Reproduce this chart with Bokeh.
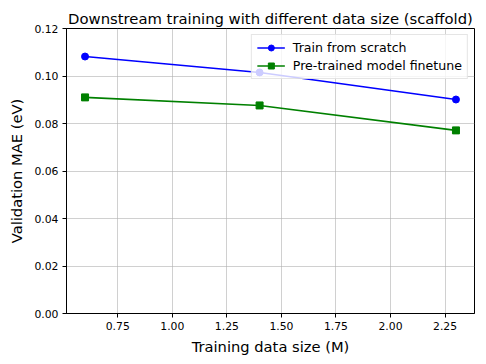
from bokeh.plotting import figure
from bokeh.models import Range1d, FixedTicker, NumeralTickFormatter, Legend, LegendItem
from bokeh.embed import file_html
from bokeh.resources import INLINE

data_size = [0.6, 1.4, 2.3]
scratch_mae = [0.1082, 0.1015, 0.0901]
finetune_mae = [0.0910, 0.0876, 0.0771]
x_ticks = [0.75, 1.00, 1.25, 1.50, 1.75, 2.00, 2.25]
y_ticks = [0.00, 0.02, 0.04, 0.06, 0.08, 0.10, 0.12]

FONT = "DejaVu Sans"

p = figure(frame_width=408, frame_height=285, output_backend="svg", toolbar_location=None,
           x_range=Range1d(0.515, 2.385), y_range=Range1d(0.0, 0.12),
           min_border_left=66, min_border_right=4, min_border_top=28, min_border_bottom=4)

p.title.text = "Downstream training with different data size (scaffold)"
p.title.align = "center"
p.title.text_font = FONT
p.title.text_font_size = "14.8px"
p.title.text_font_style = "normal"
p.title.text_color = "black"
p.title.standoff = 4

p.outline_line_color = "black"
p.outline_line_width = 1
p.background_fill_color = "white"
p.border_fill_color = "white"

for ax in (p.xaxis[0], p.yaxis[0]):
    ax.axis_line_color = "black"
    ax.major_tick_line_color = "black"
    ax.major_tick_out = 4
    ax.major_tick_in = 0
    ax.minor_tick_line_color = None
    ax.major_label_text_font = FONT
    ax.major_label_text_font_size = "10.8px"
    ax.major_label_text_color = "black"
    ax.axis_label_text_font = FONT
    ax.axis_label_text_font_size = "14.7px"
    ax.axis_label_text_font_style = "normal"
    ax.axis_label_text_color = "black"
    ax.formatter = NumeralTickFormatter(format="0.00")

p.xaxis.ticker = FixedTicker(ticks=x_ticks)
p.yaxis.ticker = FixedTicker(ticks=y_ticks)
p.xaxis.axis_label = "Training data size (M)"
p.yaxis.axis_label = "Validation MAE (eV)"
p.xaxis.major_label_standoff = 4
p.yaxis.major_label_standoff = 4
p.xaxis.axis_label_standoff = 5
p.yaxis.axis_label_standoff = 6

p.grid.grid_line_color = "#b0b0b0"
p.grid.grid_line_alpha = 0.6
p.grid.grid_line_width = 1

l1 = p.line(data_size, scratch_mae, line_color="#0000ff", line_width=1.6)
s1 = p.scatter(data_size, scratch_mae, marker="circle", size=7, fill_color="#0000ff", line_color="#0000ff")
l2 = p.line(data_size, finetune_mae, line_color="#008000", line_width=1.6)
s2 = p.scatter(data_size, finetune_mae, marker="square", size=7, fill_color="#008000", line_color="#008000")

legend = Legend(items=[LegendItem(label="Train from scratch", renderers=[l1, s1]),
                       LegendItem(label="Pre-trained model finetune", renderers=[l2, s2])],
                location="top_right")
legend.label_text_font = FONT
legend.label_text_font_size = "12.6px"
legend.label_text_color = "black"
legend.background_fill_alpha = 0.8
legend.border_line_color = "#cccccc"
legend.border_line_width = 1
legend.margin = 6
legend.padding = 5
legend.spacing = 3
legend.glyph_width = 28
legend.glyph_height = 15
legend.label_standoff = 8
p.add_layout(legend, "center")

open("out.html", "w").write(file_html(p, INLINE))
